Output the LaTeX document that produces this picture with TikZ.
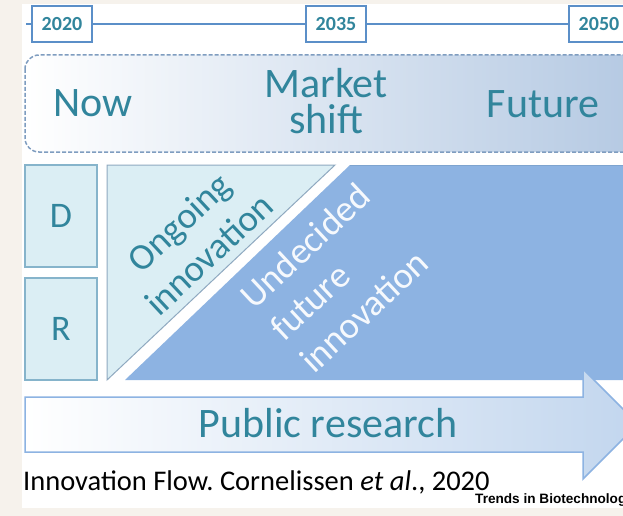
\documentclass[tikz,border=0pt]{standalone}
\usepackage{fontspec}
\setmainfont{Carlito}
\newfontfamily\journalfont{Liberation Sans}
\definecolor{cream}{HTML}{F6F2EC}
\definecolor{txtteal}{HTML}{31859C}
\definecolor{lineblue}{HTML}{5B8FC8}
\definecolor{dashblue}{HTML}{7F9DC0}
\definecolor{phasefill}{HTML}{B3C8E2}
\definecolor{boxfill}{HTML}{DBEEF4}
\definecolor{boxedge}{HTML}{86B4CB}
\definecolor{trianedge}{HTML}{8FA9C0}
\definecolor{darkfill}{HTML}{8DB3E2}
\definecolor{darkedge}{HTML}{7EA4CF}
\definecolor{arrowfill}{HTML}{C2D6EE}
\definecolor{arrowedge}{HTML}{8DB3E2}
\frenchspacing
\begin{document}
\begin{tikzpicture}[x=1pt,y=-1pt,
  yearbox/.style={draw=lineblue, line width=1.8pt, fill=white, minimum width=60pt,
    minimum height=36pt, inner sep=0pt, text=txtteal,
    font=\fontsize{20}{24}\selectfont\bfseries},
  timeline/.style={draw=lineblue, line width=1.8pt},
  phase/.style={text=txtteal, align=center, inner sep=0pt,
    font=\fontsize{42}{36}\selectfont},
  sidebox/.style={draw=boxedge, line width=1.6pt, fill=boxfill, minimum width=72pt,
    minimum height=102pt, inner sep=0pt, text=txtteal,
    font=\fontsize{36}{40}\selectfont},
  slanted/.style={rotate=43, inner sep=0pt, font=\fontsize{37}{44}\selectfont}]
\useasboundingbox (0,0) rectangle (623,516);
\clip (0,0) rectangle (623,516);
% paper and page
\fill[cream] (0,0) rectangle (623,516);
\fill[white] (22,4) rectangle (623,508);

% timeline with year markers
\coordinate (tstart) at (26,24);
\node[yearbox] (y2020) at (62,24) {2020};
\node[yearbox] (y2035) at (336,24) {2035};
\node[yearbox] (y2050) at (599,24) {2050};
\draw[timeline] (tstart) -- (y2020) -- (y2035) -- (y2050);

% phases band
\draw[dashed, dash pattern=on 4pt off 2pt, draw=dashblue, line width=1.5pt,
  rounded corners=14pt, left color=white, right color=phasefill]
  (25,55) rectangle (650,152);
\node[phase] (now) at (93,103) {Now};
\node[phase] (shift) at (326,101) {Market\\shift};
\node[phase] (future) at (543,104) {Future};

% D and R boxes
\node[sidebox] (dbox) at (61,216) {D};
\node[sidebox] (rbox) at (61,329) {R};

% innovation areas
\filldraw[fill=boxfill, draw=trianedge, line width=1pt]
  (107,165) -- (335,165) -- (107,380) -- cycle;
\fill[darkfill] (350,165) -- (650,165) -- (650,380) -- (125,380) -- cycle;
\draw[darkedge, line width=1pt] (350,165) -- (650,165);
\node[slanted, text=txtteal, align=center] (ongoing) at (194,238) {Ongoing\\innovation};
\node[slanted, text=white!92!darkfill, align=left] (undecided) at (335,278)
  {Undecided\\future\\innovation};

% public research arrow
\draw[draw=arrowedge, line width=1.5pt, left color=white, right color=arrowfill]
  (25,397) -- (583,397) -- (583,369) -- (638,424) -- (583,479) -- (583,452)
  -- (25,452) -- cycle;
\node[phase] (public) at (328,423) {Public research};

% caption
\node[anchor=base west, inner sep=0pt, font=\fontsize{28.5}{32}\selectfont]
  (caption) at (23,490) {Innovation Flow. Cornelissen \textit{et al}., 2020};
\node[anchor=base west, inner sep=0pt,
  font={\journalfont\fontsize{13.6}{16}\selectfont\bfseries}]
  (journal) at (475,503) {Trends in Biotechnology};
\end{tikzpicture}
\end{document}
